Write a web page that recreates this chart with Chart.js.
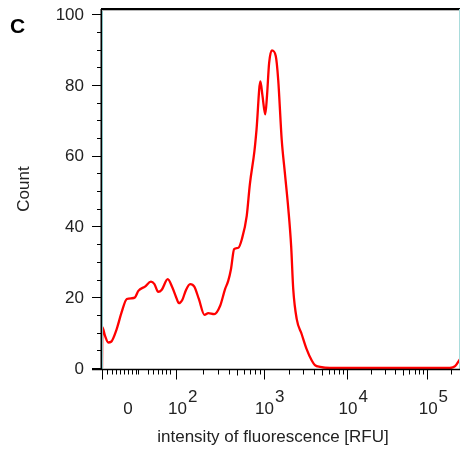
<!DOCTYPE html>
<html>
<head>
<meta charset="utf-8">
<script src="https://cdn.jsdelivr.net/npm/chart.js@4.4.1/dist/chart.umd.min.js"></script>
<style>
  html, body { margin: 0; padding: 0; background: #fff; }
  #wrap { width: 461px; height: 454px; position: relative; }
</style>
</head>
<body>
<div id="wrap"><canvas id="histChart" width="461" height="454"></canvas></div>
<script>
// histogram: display channel (0-1024 across the biexponential axis) vs count
const channel = [
  0, 1, 9, 18, 26, 42, 56, 71, 85, 94,
  104, 123, 140, 150, 161, 171, 188, 201, 212, 220,
  230, 240, 252, 264, 277, 293, 304, 321, 338, 352,
  361, 369, 378, 390, 400, 414, 423, 436, 442, 453,
  459, 467, 472, 478, 486, 497, 504, 514, 523, 533,
  541, 547, 557, 571, 585, 600, 609, 624, 652, 700,
  800, 900, 995, 1010, 1024
];
const count = [
  0, 11.5, 9, 7.2, 7.4, 11, 15.7, 19.5, 19.7, 19.9,
  21.8, 23, 24.4, 23.7, 21.5, 22.1, 25.1, 22.8, 20, 18.3,
  19.3, 22, 23.7, 23, 19.5, 15, 15.5, 15.2, 17.6, 22.3,
  24.6, 28, 33.6, 34, 36.4, 43, 52, 61.3, 67.4, 81,
  77, 71.7, 77, 86.2, 89.8, 88.2, 81.5, 64.6, 55.2, 44.9,
  34.5, 22.3, 13.8, 9.6, 5.4, 2.1, 0.8, 0.3, 0, 0,
  0, 0, 0, 0.5, 2.5
];

// axis ticks
const yMajor = [0, 20, 40, 60, 80, 100];
const yMinor = [5, 10, 15, 25, 30, 35, 45, 50, 55, 65, 70, 75, 85, 90, 95];
const xDecades = [213, 462, 701, 930];          // channels of 10^2 .. 10^5
const xDecadeExp = ["2", "3", "4", "5"];
const xZeroLabel = 74;                         // channel of the "0" label
const xLinearMinor = [14, 29, 40, 52, 63, 74, 86, 97, 103, 132, 146, 160, 172, 183, 195];

const FONT = '17px "Liberation Sans", Arial, sans-serif';

const flowAxes = {
  id: 'flowAxes',
  afterDraw(chart) {
    const { ctx, chartArea: a, scales: { x, y } } = chart;
    ctx.save();

    // frame: top dark, right light teal
    ctx.strokeStyle = '#000';
    ctx.lineWidth = 2;
    ctx.beginPath(); ctx.moveTo(a.left - 1, a.top); ctx.lineTo(a.right, a.top); ctx.stroke();
    ctx.strokeStyle = '#b8b8b8'; ctx.lineWidth = 1;
    ctx.beginPath(); ctx.moveTo(a.left, a.top + 1.5); ctx.lineTo(a.right, a.top + 1.5); ctx.stroke();
    ctx.strokeStyle = '#a9dcdc';
    ctx.beginPath(); ctx.moveTo(a.right - 0.5, a.top); ctx.lineTo(a.right - 0.5, a.bottom); ctx.stroke();

    // y axis
    ctx.strokeStyle = '#000'; ctx.lineWidth = 1.5;
    ctx.beginPath(); ctx.moveTo(a.left - 0.75, a.top); ctx.lineTo(a.left - 0.75, a.bottom + 1); ctx.stroke();
    ctx.strokeStyle = '#86c4c4'; ctx.lineWidth = 1;
    ctx.beginPath(); ctx.moveTo(a.left + 0.5, a.top + 2); ctx.lineTo(a.left + 0.5, a.bottom); ctx.stroke();

    ctx.strokeStyle = '#000'; ctx.lineWidth = 1;
    yMajor.forEach(v => {
      const py = Math.round(y.getPixelForValue(v)) + 0.5;
      ctx.beginPath(); ctx.moveTo(a.left - 10, py); ctx.lineTo(a.left, py); ctx.stroke();
    });
    yMinor.forEach(v => {
      const py = Math.round(y.getPixelForValue(v)) + 0.5;
      ctx.beginPath(); ctx.moveTo(a.left - 5, py); ctx.lineTo(a.left, py); ctx.stroke();
    });
    ctx.fillStyle = '#222';
    ctx.font = FONT;
    ctx.textAlign = 'right';
    ctx.textBaseline = 'middle';
    yMajor.forEach(v => {
      ctx.fillText(String(v), a.left - 18, y.getPixelForValue(v) + 1);
    });

    // x axis
    const base = a.bottom + 0.5;
    ctx.strokeStyle = '#000'; ctx.lineWidth = 1.5;
    ctx.beginPath(); ctx.moveTo(a.left - 10, base); ctx.lineTo(a.right, base); ctx.stroke();
    ctx.lineWidth = 1;
    const tick = (ch, len) => {
      const px = Math.round(x.getPixelForValue(ch)) + 0.5;
      ctx.beginPath(); ctx.moveTo(px, base); ctx.lineTo(px, base + len); ctx.stroke();
    };
    tick(0, 10);
    xLinearMinor.forEach(ch => tick(ch, 5));
    xDecades.forEach((ch, i) => {
      tick(ch, 10);
      const next = i < xDecades.length - 1 ? xDecades[i + 1] : ch + (ch - xDecades[i - 1]);
      for (let k = 2; k <= 9; k++) {
        const m = ch + Math.log10(k) * (next - ch);
        if (m <= x.max) tick(m, k === 5 ? 6 : 5);
      }
    });

    // x labels: 0, 10^2 .. 10^5
    ctx.textAlign = 'center';
    ctx.textBaseline = 'alphabetic';
    ctx.fillText('0', x.getPixelForValue(xZeroLabel), 414);
    xDecades.forEach((ch, i) => {
      const px = x.getPixelForValue(ch) + 1;
      ctx.textAlign = 'center';
      ctx.fillText('10', px, 414);
      const w = ctx.measureText('10').width;
      ctx.textAlign = 'left';
      ctx.fillText(xDecadeExp[i], px + w / 2 + 1, 402);
    });

    // axis titles
    ctx.textAlign = 'center';
    ctx.fillText('intensity of fluorescence [RFU]', 273, 442);
    ctx.save();
    ctx.translate(29, (a.top + a.bottom) / 2);
    ctx.rotate(-Math.PI / 2);
    ctx.fillText('Count', 0, 0);
    ctx.restore();

    // panel letter
    ctx.fillStyle = '#000';
    ctx.font = 'bold 21px "Liberation Sans", Arial, sans-serif';
    ctx.textAlign = 'left';
    ctx.fillText('C', 10, 33);

    ctx.restore();
  }
};

new Chart(document.getElementById('histChart'), {
  type: 'line',
  data: {
    labels: channel,
    datasets: [{
      data: channel.map((c, i) => ({ x: c, y: count[i] })),
      borderColor: '#ff0000',
      borderWidth: 2.3,
      pointRadius: 0,
      fill: false,
      cubicInterpolationMode: 'monotone'
    }]
  },
  options: {
    responsive: false,
    animation: false,
    devicePixelRatio: 1,
    layout: { padding: { left: 102, top: 9, right: 1, bottom: 85 } },
    plugins: { legend: { display: false }, tooltip: { enabled: false } },
    scales: {
      x: { type: 'linear', min: 0, max: 1024, display: false },
      y: { type: 'linear', min: -0.3, max: 101.5, display: false }
    }
  },
  plugins: [flowAxes]
});
</script>
</body>
</html>
